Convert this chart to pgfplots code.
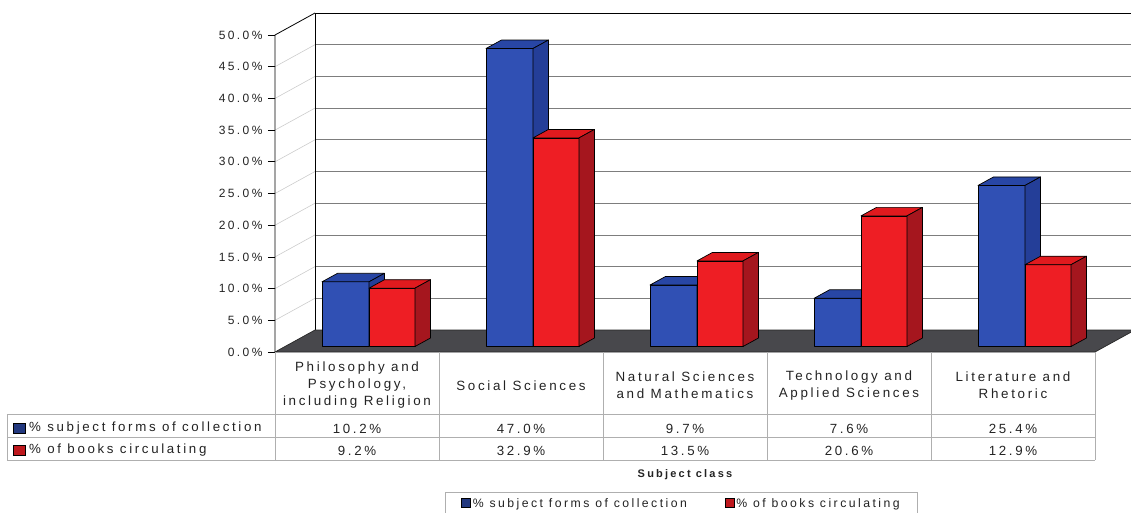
\documentclass[border=0pt]{standalone}
\usepackage{fontspec}
\setmainfont{Liberation Sans}[LetterSpace=20]
\usepackage{pgfplots}
\usepackage{pgfplotstable}
\pgfplotsset{compat=1.18}
\pgfkeys{/pgf/number format/assume math mode=true}

\definecolor{collfront}{RGB}{48,80,180}
\definecolor{colltop}{RGB}{40,70,165}
\definecolor{collside}{RGB}{36,62,152}
\definecolor{circfront}{RGB}{238,30,36}
\definecolor{circtop}{RGB}{224,26,30}
\definecolor{circside}{RGB}{165,22,30}
\definecolor{floorgray}{RGB}{72,72,76}
\definecolor{tabletext}{RGB}{35,35,35}
\definecolor{ruling}{RGB}{175,175,175}
\definecolor{gridgray}{RGB}{125,125,125}

\newcommand\headsize{\fontsize{13.4bp}{17bp}\selectfont}
\newcommand\tabsize{\fontsize{13.3bp}{15bp}\selectfont}
\newcommand\ticksize{\fontsize{12bp}{13bp}\selectfont}
\newcommand\legsize{\fontsize{12.25bp}{14bp}\selectfont}

% share of the collection and of the circulation, by subject class
\pgfplotstableread{
idx coll circ
0 10.2 9.2
1 47.0 32.9
2 9.7 13.5
3 7.6 20.6
4 25.4 12.9
}\subjects

% A column as a prism. The mark sits at (class centre, value) on the front
% plane; the column stands (12bp,5.5bp) inside the box, depth (15.5bp,8.5bp).
% #1 left edge of the front face, #2 width, #3 front, #4 top, #5 side colour
\newcommand\prism[5]{%
  \pgfmathsetlengthmacro\bh{\barval*6.34bp}%
  \pgfmathsetlengthmacro\xl{12bp+#1}%
  \pgfmathsetlengthmacro\xr{12bp+#1+#2}%
  \pgfmathsetlengthmacro\yb{5.5bp-\bh}%
  \pgfsetlinewidth{0.7bp}\pgfsetstrokecolor{black}\pgfsetroundjoin
  % front face
  \pgfsetfillcolor{#3}%
  \pgfpathmoveto{\pgfqpoint{\xl}{\yb}}%
  \pgfpathlineto{\pgfqpoint{\xr}{\yb}}%
  \pgfpathlineto{\pgfqpoint{\xr}{5.5bp}}%
  \pgfpathlineto{\pgfqpoint{\xl}{5.5bp}}%
  \pgfpathclose\pgfusepath{fill,stroke}%
  % top face
  \pgfsetfillcolor{#4}%
  \pgfpathmoveto{\pgfqpoint{\xl}{5.5bp}}%
  \pgfpathlineto{\pgfpoint{\xl+15.5bp}{14bp}}%
  \pgfpathlineto{\pgfpoint{\xr+15.5bp}{14bp}}%
  \pgfpathlineto{\pgfqpoint{\xr}{5.5bp}}%
  \pgfpathclose\pgfusepath{fill,stroke}%
  % side face
  \pgfsetfillcolor{#5}%
  \pgfpathmoveto{\pgfqpoint{\xr}{5.5bp}}%
  \pgfpathlineto{\pgfpoint{\xr+15.5bp}{14bp}}%
  \pgfpathlineto{\pgfpoint{\xr+15.5bp}{\yb+8.5bp}}%
  \pgfpathlineto{\pgfqpoint{\xr}{\yb}}%
  \pgfpathclose\pgfusepath{fill,stroke}%
}
\pgfdeclareplotmark{collprism}{\prism{-47bp}{47bp}{collfront}{colltop}{collside}}
\pgfdeclareplotmark{circprism}{\prism{0bp}{46bp}{circfront}{circtop}{circside}}

\begin{document}
\begin{tikzpicture}
\useasboundingbox (-275bp,-161bp) rectangle (856bp,352bp);
\begin{axis}[
  at={(0,0)}, anchor=south west,
  x=164bp, y=6.34bp,
  xmin=0, xmax=5, ymin=0, ymax=50,
  clip=false,
  axis line style={draw=none},
  xtick={0.5,1.5,2.5,3.5,4.5},
  xticklabels={{Philosophy and\\Psychology,\\including Religion},{Social Sciences},
    {Natural Sciences\\and Mathematics},{Technology and\\Applied Sciences},
    {Literature and\\Rhetoric}},
  xtick pos=bottom, ytick pos=left,
  xtick style={draw=none},
  ytick={0,5,...,50},
  tick align=outside,
  major tick length=7bp,
  ytick style={black, line width=0.7bp},
  yticklabel={\pgfmathprintnumber[fixed,fixed zerofill,precision=1]{\tick}\%},
  yticklabel style={font=\ticksize, text=tabletext, xshift=-2bp},
  xticklabel style={font=\headsize, text=tabletext, align=center, anchor=center, yshift=-26.5bp},
  xlabel={Subject class},
  xlabel style={at={(axis description cs:0.5,0)}, anchor=center, yshift=-123bp,
    font=\bfseries\fontsize{11bp}{13bp}\selectfont, text=tabletext},
  legend columns=2,
  legend style={at={(axis description cs:0.2073,-0.4416)}, anchor=north west,
    draw=ruling, line width=0.8bp, font=\legsize, text=tabletext,
    inner xsep=16bp, inner ysep=4bp,
    /tikz/every even column/.append style={column sep=36bp}},
]
% back wall, left wall and their gridlines
\fill[white] ([shift={(40bp,22bp)}]axis cs:0,0) rectangle ([shift={(40bp,22bp)}]axis cs:5,50);
\pgfplotsinvokeforeach{5,10,...,45}{
  \draw[gridgray, line width=0.6bp] ([shift={(40bp,22bp)}]axis cs:0,#1) -- ([shift={(40bp,22bp)}]axis cs:5,#1);
  \draw[gray!40, line width=0.6bp] (axis cs:0,#1) -- ([shift={(40bp,22bp)}]axis cs:0,#1);
}
\draw[black, line width=0.8bp] ([shift={(40bp,22bp)}]axis cs:5,50) -- ([shift={(40bp,22bp)}]axis cs:0,50)
  -- ([shift={(40bp,22bp)}]axis cs:0,0);
\draw[black, line width=0.8bp] (axis cs:0,0) -- (axis cs:0,50) -- ([shift={(40bp,22bp)}]axis cs:0,50);
% floor
\filldraw[fill=floorgray, draw=black!85, line width=0.7bp] (axis cs:0,0) -- (axis cs:5,0)
  -- ([shift={(40bp,22bp)}]axis cs:5,0) -- ([shift={(40bp,22bp)}]axis cs:0,0) -- cycle;

\addplot[only marks, mark=collprism, visualization depends on={rawy \as \barval},
  legend image code/.code={\draw[fill=collfront!70!black, draw=black, line width=0.5bp] (0bp,-4bp) rectangle (9bp,5bp);}]
  table[x expr=\thisrow{idx}+0.5, y=coll] {\subjects};
\addlegendentry{\% subject forms of collection}
\addplot[only marks, mark=circprism, visualization depends on={rawy \as \barval},
  legend image code/.code={\draw[fill=circfront!80!black, draw=black, line width=0.5bp] (0bp,-4bp) rectangle (9bp,5bp);}]
  table[x expr=\thisrow{idx}+0.5, y=circ] {\subjects};
\addlegendentry{\% of books circulating\hspace{8bp}}

% data table rows
\addplot[forget plot, draw=none, mark=none, point meta=explicit,
  nodes near coords={\pgfmathprintnumber[fixed,fixed zerofill,precision=1]{\pgfplotspointmeta}\%},
  nodes near coords style={anchor=center, yshift=-76.5bp, font=\tabsize, text=tabletext}]
  table[x expr=\thisrow{idx}+0.5, y expr=0, meta=coll] {\subjects};
\addplot[forget plot, draw=none, mark=none, point meta=explicit,
  nodes near coords={\pgfmathprintnumber[fixed,fixed zerofill,precision=1]{\pgfplotspointmeta}\%},
  nodes near coords style={anchor=center, yshift=-98.5bp, font=\tabsize, text=tabletext}]
  table[x expr=\thisrow{idx}+0.5, y expr=0, meta=circ] {\subjects};
\end{axis}

% table rulings
\begin{scope}[draw=ruling, line width=0.8bp]
  \draw (-268bp,-62bp) -- (820bp,-62bp);
  \draw (-268bp,-85bp) -- (820bp,-85bp);
  \draw (-268bp,-108bp) -- (820bp,-108bp);
  \draw (-268bp,-62bp) -- (-268bp,-108bp);
  \foreach \c in {0,164,328,492,656,820} \draw (\c bp,0bp) -- (\c bp,-108bp);
\end{scope}
% row headings with their keys
\draw[fill=collfront!70!black, line width=0.5bp] (-262bp,-81.5bp) rectangle (-250bp,-71.5bp);
\node[anchor=west, inner sep=0pt, font=\tabsize, text=tabletext] at (-246bp,-76.5bp) {\% subject forms of collection};
\draw[fill=circfront!80!black, line width=0.5bp] (-262bp,-103.5bp) rectangle (-250bp,-93.5bp);
\node[anchor=west, inner sep=0pt, font=\tabsize, text=tabletext] at (-246bp,-98.5bp) {\% of books circulating};
\end{tikzpicture}
\end{document}
